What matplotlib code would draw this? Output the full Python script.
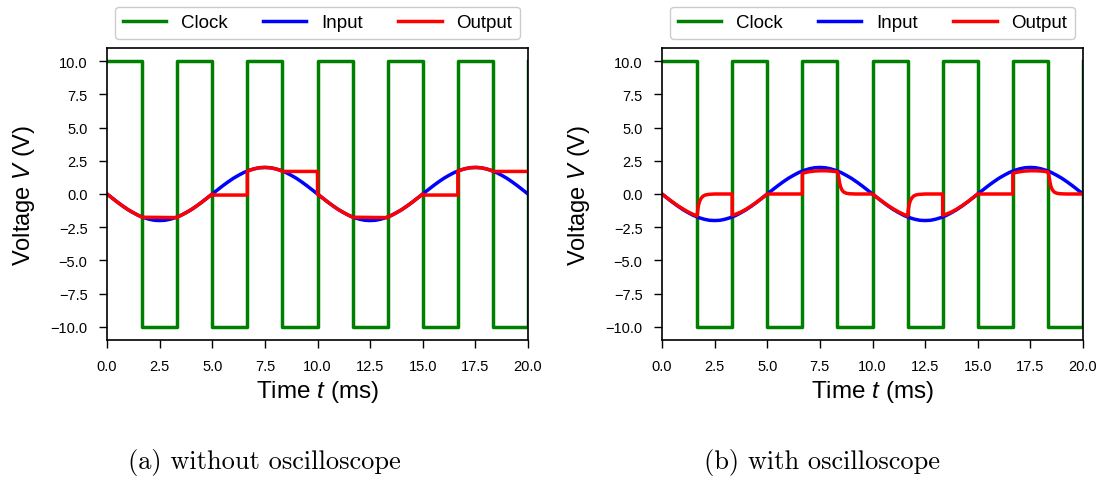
import matplotlib
matplotlib.use("Agg")
import matplotlib.pyplot as plt

plt.rcParams["font.family"] = ["Liberation Sans", "DejaVu Sans"]
plt.rcParams["mathtext.fontset"] = "custom"
plt.rcParams["mathtext.rm"] = "Liberation Sans"
plt.rcParams["mathtext.it"] = "Liberation Sans:italic"

# Clock: switching instants (ms) and the level held after each instant (V)
clock_t = [0.0, 1.667, 3.333, 5.0, 6.667, 8.333, 10.0, 11.667, 13.333,
           15.0, 16.667, 18.333, 20.0]
clock_v = [10, -10, 10, -10, 10, -10, 10, -10, 10, -10, 10, -10, 10]

# Input signal sampled every 0.25 ms
input_t = [i * 0.25 for i in range(81)]
input_v = [0.00, -0.31, -0.62, -0.91, -1.18, -1.41, -1.62, -1.78, -1.90, -1.98,
           -2.00, -1.98, -1.90, -1.78, -1.62, -1.41, -1.18, -0.91, -0.62, -0.31,
           0.00, 0.31, 0.62, 0.91, 1.18, 1.41, 1.62, 1.78, 1.90, 1.98,
           2.00, 1.98, 1.90, 1.78, 1.62, 1.41, 1.18, 0.91, 0.62, 0.31,
           0.00, -0.31, -0.62, -0.91, -1.18, -1.41, -1.62, -1.78, -1.90, -1.98,
           -2.00, -1.98, -1.90, -1.78, -1.62, -1.41, -1.18, -0.91, -0.62, -0.31,
           0.00, 0.31, 0.62, 0.91, 1.18, 1.41, 1.62, 1.78, 1.90, 1.98,
           2.00, 1.98, 1.90, 1.78, 1.62, 1.41, 1.18, 0.91, 0.62, 0.31,
           0.00]

# Sample-and-hold output without oscilloscope
out_a_t = [0.0, 0.25, 0.5, 0.75, 1.0, 1.25, 1.5, 1.667,
           3.333, 3.333, 3.5, 3.75, 4.0, 4.25, 4.5, 4.75, 5.0,
           5.0, 6.667, 6.667, 6.75, 7.0, 7.25, 7.5, 7.75, 8.0, 8.25, 8.333,
           10.0, 10.0, 10.25, 10.5, 10.75, 11.0, 11.25, 11.5, 11.667,
           13.333, 13.333, 13.5, 13.75, 14.0, 14.25, 14.5, 14.75, 15.0,
           15.0, 16.667, 16.667, 16.75, 17.0, 17.25, 17.5, 17.75, 18.0, 18.25, 18.333,
           20.0]
out_a_v = [0.00, -0.31, -0.62, -0.91, -1.18, -1.41, -1.62, -1.75,
           -1.78, -1.73, -1.62, -1.41, -1.18, -0.91, -0.62, -0.31, 0.00,
           -0.08, -0.08, 1.73, 1.78, 1.90, 1.98, 2.00, 1.98, 1.90, 1.78, 1.70,
           1.70, 0.00, -0.31, -0.62, -0.91, -1.18, -1.41, -1.62, -1.75,
           -1.78, -1.73, -1.62, -1.41, -1.18, -0.91, -0.62, -0.31, 0.00,
           -0.08, -0.08, 1.73, 1.78, 1.90, 1.98, 2.00, 1.98, 1.90, 1.78, 1.70,
           1.70]

# Sample-and-hold output with the oscilloscope attached
out_b_t = [0.0, 0.25, 0.5, 0.75, 1.0, 1.25, 1.5, 1.667,
           1.70, 1.74, 1.80, 1.87, 1.95, 2.05, 2.2, 2.5,
           3.333, 3.333, 3.5, 3.75, 4.0, 4.25, 4.5, 4.75, 5.0,
           6.667, 6.667, 6.75, 7.0, 7.25, 7.5, 7.75, 8.0, 8.25, 8.333,
           8.38, 8.43, 8.48, 8.55, 8.63, 8.75, 8.9, 9.2,
           10.0, 10.25, 10.5, 10.75, 11.0, 11.25, 11.5, 11.667,
           11.70, 11.74, 11.80, 11.87, 11.95, 12.05, 12.2, 12.5,
           13.333, 13.333, 13.5, 13.75, 14.0, 14.25, 14.5, 14.75, 15.0,
           16.667, 16.667, 16.75, 17.0, 17.25, 17.5, 17.75, 18.0, 18.25, 18.333,
           18.38, 18.43, 18.48, 18.55, 18.63, 18.75, 18.9, 19.2,
           20.0]
out_b_v = [0.00, -0.31, -0.60, -0.88, -1.13, -1.36, -1.55, -1.66,
           -1.20, -0.80, -0.50, -0.30, -0.16, -0.08, -0.03, 0.00,
           0.00, -1.60, -1.52, -1.36, -1.14, -0.89, -0.61, -0.31, 0.00,
           0.00, 1.55, 1.60, 1.68, 1.73, 1.75, 1.75, 1.73, 1.69, 1.67,
           1.40, 0.90, 0.55, 0.30, 0.15, 0.06, 0.02, 0.00,
           0.00, -0.31, -0.60, -0.88, -1.13, -1.36, -1.55, -1.66,
           -1.20, -0.80, -0.50, -0.30, -0.16, -0.08, -0.03, 0.00,
           0.00, -1.60, -1.52, -1.36, -1.14, -0.89, -0.61, -0.31, 0.00,
           0.00, 1.55, 1.60, 1.68, 1.73, 1.75, 1.75, 1.73, 1.69, 1.67,
           1.40, 0.90, 0.55, 0.30, 0.15, 0.06, 0.02, 0.00,
           0.00]

captions = ["(a) without oscilloscope", "(b) with oscilloscope"]
x_ticks = [0.0, 2.5, 5.0, 7.5, 10.0, 12.5, 15.0, 17.5, 20.0]
y_ticks = [10.0, 7.5, 5.0, 2.5, 0.0, -2.5, -5.0, -7.5, -10.0]

W, H = 1104, 481
fig = plt.figure(figsize=(W / 100, H / 100), dpi=100)

panels = [(107, out_a_t, out_a_v, 264), (662, out_b_t, out_b_v, 822)]
for (left_px, ot, ov, cap_x), cap in zip(panels, captions):
    ax = fig.add_axes([left_px / W, 1 - 341 / H, 421 / W, 292 / H])
    ax.plot(clock_t, clock_v, color="green", lw=2.5, drawstyle="steps-post",
            label="Clock")
    ax.plot(input_t, input_v, color="blue", lw=2.5, label="Input")
    ax.plot(ot, ov, color="red", lw=2.5, label="Output")
    ax.set_xlim(0, 20)
    ax.set_ylim(-11, 11)
    ax.set_xticks(x_ticks)
    ax.set_yticks(y_ticks)
    ax.set_xticklabels([f"{v:.1f}" for v in x_ticks])
    ax.set_yticklabels([f"{v:.1f}".replace("-", "\u2212") for v in y_ticks])
    ax.tick_params(labelsize=10.5, length=6, width=1.0, pad=8)
    for s in ax.spines.values():
        s.set_linewidth(1.2)
    ax.set_xlabel("Time $t$ (ms)", fontsize=17.5, va="center")
    ax.set_ylabel("Voltage $V$ (V)", fontsize=17, va="center")
    ax.xaxis.set_label_coords(0.5, -0.175)
    ax.yaxis.set_label_coords(-0.198, 0.5)
    ax.legend(loc="lower center", bbox_to_anchor=(0.5, 1.032), ncol=3,
              fontsize=13.5, handlelength=2.3, columnspacing=1.9,
              frameon=True, fancybox=True, edgecolor="#cccccc", framealpha=1.0,
              borderaxespad=0.0)
    fig.text(cap_x / W, 1 - 463 / H, cap, family="cmr10", fontsize=19,
             ha="center", va="center")

fig.savefig("out.png", dpi=100)
